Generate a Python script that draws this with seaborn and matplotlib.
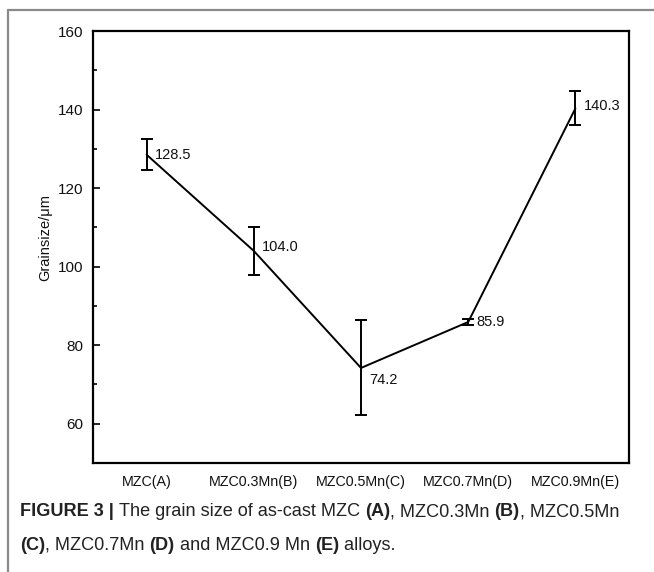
import matplotlib
matplotlib.use("Agg")
import matplotlib.pyplot as plt
from matplotlib.lines import Line2D
from matplotlib.ticker import MultipleLocator
import seaborn as sns
import pandas as pd

categories = ["MZC(A)", "MZC0.3Mn(B)", "MZC0.5Mn(C)", "MZC0.7Mn(D)", "MZC0.9Mn(E)"]
grain_size = [128.5, 104.0, 74.2, 85.9, 140.3]
errors = [4.0, 6.1, 12.1, 0.7, 4.3]
value_labels = ["128.5", "104.0", "74.2", "85.9", "140.3"]
label_dy = [0, 3, -9, 0, 2]

sns.set_theme(style="white")
plt.rcParams["font.family"] = ["Liberation Sans", "DejaVu Sans"]

df = pd.DataFrame({"pos": range(len(categories)), "size": grain_size})

fig = plt.figure(figsize=(6.54, 5.72), dpi=100)
ax = fig.add_axes([0.1422, 0.1906, 0.9618 - 0.1422, 0.9458 - 0.1906])

sns.lineplot(data=df, x="pos", y="size", ax=ax, color="black", linewidth=1.4)
ax.errorbar(df["pos"], df["size"], yerr=errors, fmt="none", ecolor="black",
            elinewidth=1.4, capsize=4.5, capthick=1.4)

for i, (v, lab) in enumerate(zip(grain_size, value_labels)):
    ax.annotate(lab, (i, v), xytext=(6, label_dy[i]), textcoords="offset points",
                ha="left", va="center", fontsize=10.5, color="#111111")

ax.set_xlim(-0.5, 4.5)
ax.set_ylim(50, 160)
ax.set_xticks(range(len(categories)))
ax.set_xticklabels(categories)
ax.yaxis.set_major_locator(MultipleLocator(20))
ax.yaxis.set_minor_locator(MultipleLocator(10))
ax.set_yticks([60, 80, 100, 120, 140, 160])
ax.tick_params(axis="x", length=0, pad=9, labelsize=10.3, labelcolor="#111111")
ax.tick_params(axis="y", which="major", direction="in", length=5, width=1.4,
               pad=7, labelsize=11, left=True, labelcolor="#111111")
ax.tick_params(axis="y", which="minor", direction="in", length=3, width=1.4, left=True)
ax.set_xlabel("")
ax.set_ylabel("Grainsize/\u03bcm", fontsize=10.5, color="#111111")
ax.yaxis.set_label_coords(-0.0765, 0.522)
for s in ax.spines.values():
    s.set_visible(True)
    s.set_color("black")
    s.set_linewidth(1.6)

# figure border (left and top)
fig.add_artist(Line2D([8 / 654, 1.0], [1 - 10 / 572, 1 - 10 / 572], transform=fig.transFigure,
                      color="#8a8a8a", linewidth=1.6))
fig.add_artist(Line2D([8 / 654, 8 / 654], [0, 1 - 10 / 572], transform=fig.transFigure,
                      color="#8a8a8a", linewidth=1.6))

# caption with mixed bold
cap_font = ["Liberation Sans", "DejaVu Sans"]
cap_size = 13.1
lines = [
    [("FIGURE 3 | ", "bold"), ("The grain size of as-cast MZC ", "normal"), ("(A)", "bold"),
     (", MZC0.3Mn ", "normal"), ("(B)", "bold"), (", MZC0.5Mn", "normal")],
    [("(C)", "bold"), (", MZC0.7Mn ", "normal"), ("(D)", "bold"), (" and MZC0.9 Mn ", "normal"),
     ("(E)", "bold"), (" alloys.", "normal")],
]
line_y = [1 - 512 / 572, 1 - 545 / 572]
fig.canvas.draw()
renderer = fig.canvas.get_renderer()
for parts, y in zip(lines, line_y):
    x = 20 / 654
    for txt, wt in parts:
        t = fig.text(x, y, txt, fontsize=cap_size, fontweight=wt, family=cap_font,
                     ha="left", va="center", color="#222222")
        bb = t.get_window_extent(renderer=renderer)
        x += bb.width / fig.bbox.width

fig.savefig("out.png", dpi=100)
